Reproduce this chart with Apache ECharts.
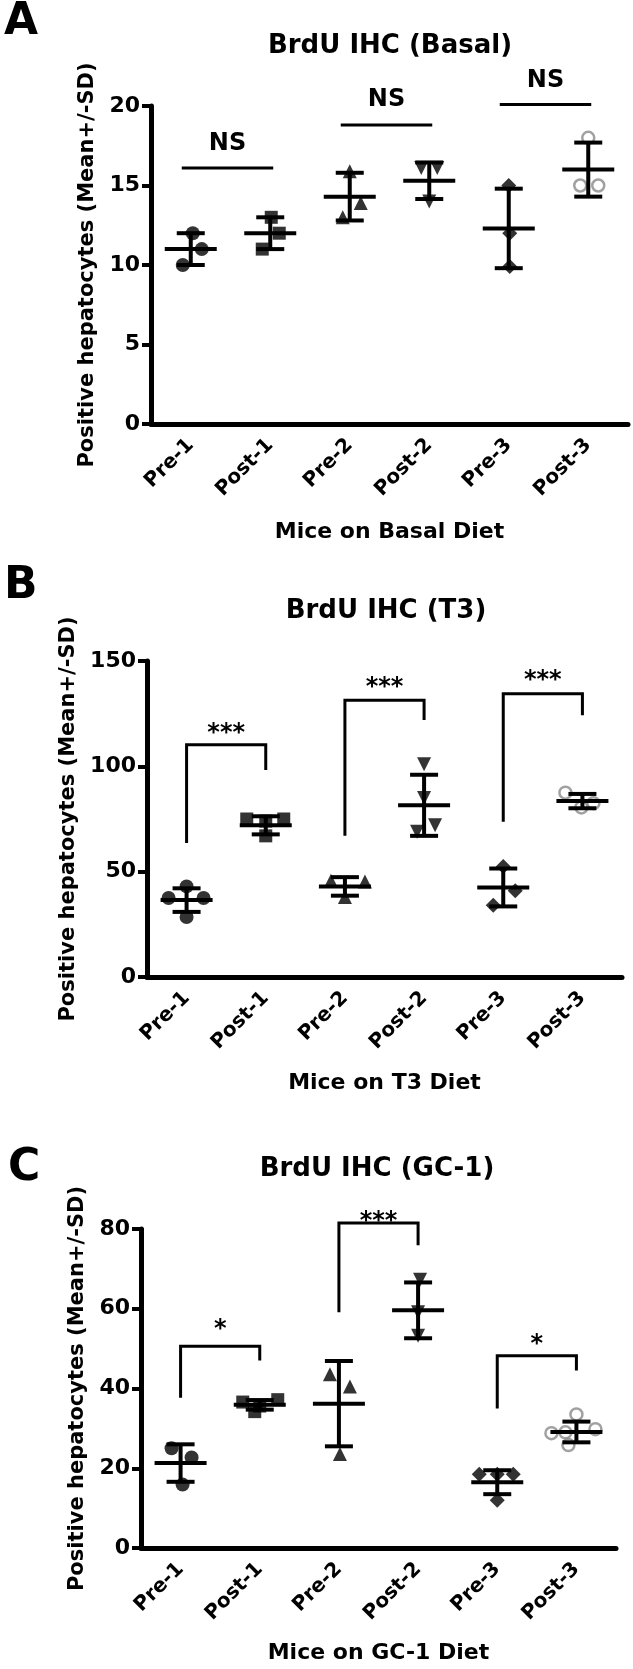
<!DOCTYPE html>
<html><head><meta charset="utf-8">
<script src="https://cdn.jsdelivr.net/npm/echarts@6/dist/echarts.min.js"></script>
<style>html,body{margin:0;padding:0;background:#fff}#c{width:633px;height:1669px}</style>
</head><body><div id="c"></div>
<script>
const FONT = 'DejaVu Sans';
const categories = ['Pre-1', 'Post-1', 'Pre-2', 'Post-2', 'Pre-3', 'Post-3'];
const panelLetters = ['A', 'B', 'C'];
const titles = ['BrdU IHC (Basal)', 'BrdU IHC (T3)', 'BrdU IHC (GC-1)'];
const xNames = ['Mice on Basal Diet', 'Mice on T3 Diet', 'Mice on GC-1 Diet'];
const yName = 'Positive hepatocytes (Mean+/-SD)';

// y axis ticks per panel
const basalTicks = [0, 5, 10, 15, 20];
const t3Ticks = [0, 50, 100, 150];
const gc1Ticks = [0, 20, 40, 60, 80];

// Panel A: Basal diet (individual mice per group)
const basalPoints = [[12, 11, 10], [13, 12, 11], [15.9, 13.9, 13.0], [16.1, 16.1, 14.0], [15, 12, 9.9], [18, 15, 15]];
const basalMean = [11, 12, 14.3, 15.3, 12.3, 16];
const basalSD = [1, 1, 1.5, 1.15, 2.5, 1.7];
// significance: [preIdx, postIdx, lineY, labelY]
const basalSig = [[0, 1, 16.1, 17.6], [2, 3, 18.8, 20.4], [4, 5, 20.1, 21.6]];
const basalSigText = ['NS', 'NS', 'NS'];

// Panel B: T3 diet
const t3Points = [[43, 37.5, 37.5, 28.5], [75, 74, 75, 67], [45.7, 45.3, 38], [101, 85, 69, 72], [52.5, 41, 34], [87.5, 82.5, 80.5]];
const t3Mean = [36.5, 72, 43, 81.5, 42.5, 83.5];
const t3SD = [5.6, 4.3, 4.4, 14.5, 9.0, 3.4];
// bracket: [preIdx, postIdx, leftBottom, top, rightBottom, labelY]
const t3Sig = [[0, 1, 63.6, 110.2, 98.3, 118.6], [2, 3, 67, 131.4, 122, 140.7], [4, 5, 73.7, 134.4, 124.2, 144]];
const t3SigText = ['***', '***', '***'];

// Panel C: GC-1 diet
const gc1Points = [[25, 22.7, 15.9], [36.6, 35.6, 34.2, 37.2], [43.6, 40.5, 23.6], [67.3, 59.1, 53.2], [18.5, 18.5, 18.5, 12], [33.5, 28.8, 29, 29.8, 25.8]];
const gc1Mean = [21.3, 35.9, 36.2, 59.6, 16.5, 29.1];
const gc1SD = [4.7, 1.2, 10.7, 7.0, 3.0, 2.6];
const gc1Sig = [[0, 1, 37.7, 50.6, 47, 56.4], [2, 3, 59.1, 81.5, 75.9, 83.6], [4, 5, 35, 48.2, 44.5, 52.7]];
const gc1SigText = ['*', '***', '*'];

// ---- styling / layout (not data) ----
const jitter = [
  [[2, 11, -8], [1, 9, -8], [0, 11, -7], [-8, 8, 0], [0, 1, 1], [0, -8, 10]],
  [[0, -18, 17, 0], [-19, 0, 18, 0], [-14, 20, 0], [0, 0, -7, 11], [0, 12, -10], [-17, 11, -1]],
  [[-9, 11, 2], [-17, 0, -5, 18], [-9, 11, 1], [2, 0, 0], [-18, 0, 16, 0], [0, -25, -11, 19, -8]]
];
const layout = [
  { grid: { left: 151, top: 106, width: 477, height: 318 }, yNameGap: 51, xNameGap: 97, title: [390, 46], letter: [4, 23] },
  { grid: { left: 147, top: 661, width: 475, height: 316 }, yNameGap: 61, xNameGap: 95, title: [386, 611], letter: [4, 587] },
  { grid: { left: 141, top: 1229, width: 475, height: 319 }, yNameGap: 51, xNameGap: 94, title: [377, 1169], letter: [8, 1169] }
];
const symbolStyles = [
  { symbol: 'circle', size: 14, fill: '#000', stroke: '#000', bw: 0, rot: 0 },
  { symbol: 'rect', size: 13, fill: '#000', stroke: '#000', bw: 0, rot: 0 },
  { symbol: 'triangle', size: 14, fill: '#000', stroke: '#000', bw: 0, rot: 0 },
  { symbol: 'triangle', size: 14, fill: '#000', stroke: '#000', bw: 0, rot: 180 },
  { symbol: 'diamond', size: 15, fill: '#000', stroke: '#000', bw: 0, rot: 0 },
  { symbol: 'circle', size: 12, fill: 'rgba(255,255,255,0)', stroke: '#8a8a8a', bw: 2.5, rot: 0 }
];

const panels = [
  { ticks: basalTicks, points: basalPoints, mean: basalMean, sd: basalSD, sig: basalSig, sigText: basalSigText, bracket: false },
  { ticks: t3Ticks, points: t3Points, mean: t3Mean, sd: t3SD, sig: t3Sig, sigText: t3SigText, bracket: true },
  { ticks: gc1Ticks, points: gc1Points, mean: gc1Mean, sd: gc1SD, sig: gc1Sig, sigText: gc1SigText, bracket: true }
];

const boldText = (size) => ({ fontFamily: FONT, fontWeight: 'bold', fontSize: size, color: '#000' });

const grids = [], xAxes = [], yAxes = [], series = [], graphics = [];

panels.forEach((p, k) => {
  const L = layout[k];
  grids.push(Object.assign({ containLabel: false }, L.grid));
  xAxes.push({
    type: 'category', gridIndex: k, data: categories,
    name: xNames[k], nameLocation: 'middle', nameGap: L.xNameGap,
    nameTextStyle: boldText(22),
    axisLine: { lineStyle: { color: '#000', width: 5 } },
    axisTick: { alignWithLabel: true, length: 12, lineStyle: { color: '#000', width: 4 } },
    axisLabel: Object.assign(boldText(20), { rotate: 45, margin: 18, interval: 0 }),
    splitLine: { show: false }
  });
  const t = p.ticks;
  yAxes.push({
    type: 'value', gridIndex: k, min: t[0], max: t[t.length - 1], interval: t[1] - t[0],
    name: yName, nameLocation: 'middle', nameGap: L.yNameGap, nameRotate: 90,
    nameTextStyle: boldText(21),
    axisLine: { show: true, lineStyle: { color: '#000', width: 5 } },
    axisTick: { show: true, length: 9, lineStyle: { color: '#000', width: 4 } },
    axisLabel: Object.assign(boldText(22), { margin: 11 }),
    splitLine: { show: false }
  });

  // individual points
  p.points.forEach((vals, i) => {
    const s = symbolStyles[i];
    series.push({
      type: 'scatter', xAxisIndex: k, yAxisIndex: k, z: 2,
      symbol: s.symbol, symbolSize: s.size, symbolRotate: s.rot,
      itemStyle: { color: s.fill, borderColor: s.stroke, borderWidth: s.bw },
      silent: true,
      data: vals.map((v, j) => ({ value: [i, v], symbolOffset: [jitter[k][i][j], 0] }))
    });
  });

  // mean +/- SD
  series.push({
    type: 'custom', xAxisIndex: k, yAxisIndex: k, z: 4, silent: true,
    data: p.mean.map((m, i) => [i, m, p.sd[i]]),
    encode: { x: 0, y: 1 },
    renderItem: (params, api) => {
      const x = api.value(0), m = api.value(1), s = api.value(2);
      const c = api.coord([x, m]), hi = api.coord([x, m + s]), lo = api.coord([x, m - s]);
      const st = { stroke: '#000', lineWidth: 4 };
      return {
        type: 'group', children: [
          { type: 'line', shape: { x1: c[0], y1: hi[1], x2: c[0], y2: lo[1] }, style: st },
          { type: 'line', shape: { x1: c[0] - 14, y1: hi[1], x2: c[0] + 14, y2: hi[1] }, style: st },
          { type: 'line', shape: { x1: c[0] - 14, y1: lo[1], x2: c[0] + 14, y2: lo[1] }, style: st },
          { type: 'line', shape: { x1: c[0] - 26, y1: c[1], x2: c[0] + 26, y2: c[1] }, style: st }
        ]
      };
    }
  });

  // significance annotations
  series.push({
    type: 'custom', xAxisIndex: k, yAxisIndex: k, z: 5, silent: true, clip: false,
    data: p.sig.map((d, i) => d.concat([i])),
    encode: { x: 0, y: 2 },
    renderItem: (params, api) => {
      const idx = params.dataIndex;
      const d = p.sig[idx];
      const txt = p.sigText[idx];
      const st = { stroke: '#000', lineWidth: 3 };
      const font = { fontFamily: FONT, fontWeight: 'bold', fontSize: 24 };
      const children = [];
      let cx, ty;
      if (!p.bracket) {
        const a = api.coord([d[0], d[2]]), b = api.coord([d[1], d[2]]);
        children.push({ type: 'line', shape: { x1: a[0] - 9, y1: a[1], x2: b[0] + 3, y2: a[1] }, style: st });
        cx = (a[0] - 9 + b[0] + 3) / 2;
        ty = api.coord([d[0], d[3]])[1];
      } else {
        const lb = api.coord([d[0], d[2]]), lt = api.coord([d[0], d[3]]);
        const rt = api.coord([d[1], d[3]]), rb = api.coord([d[1], d[4]]);
        children.push({ type: 'polyline', shape: { points: [lb, lt, rt, rb] }, style: Object.assign({ fill: null }, st) });
        cx = (lt[0] + rt[0]) / 2;
        ty = api.coord([d[0], d[5]])[1] + 7; // asterisks sit high in the em box
      }
      children.push({
        type: 'text', x: cx, y: ty,
        style: Object.assign({ text: txt, fill: '#000', align: 'center', verticalAlign: 'middle' }, font)
      });
      return { type: 'group', children };
    }
  });

  graphics.push({
    type: 'text', left: L.letter[0], top: L.letter[1] - 22,
    style: { text: panelLetters[k], fontFamily: FONT, fontWeight: 'bold', fontSize: 44, fill: '#000' }
  });
  graphics.push({
    type: 'text', x: L.title[0], y: L.title[1],
    style: { text: titles[k], fontFamily: FONT, fontWeight: 'bold', fontSize: 26, fill: '#000', align: 'center', verticalAlign: 'middle' }
  });
});

const chart = echarts.init(document.getElementById('c'), null, { renderer: 'canvas' });
chart.setOption({
  animation: false,
  backgroundColor: '#fff',
  grid: grids, xAxis: xAxes, yAxis: yAxes, series, graphic: graphics
});
</script></body></html>
